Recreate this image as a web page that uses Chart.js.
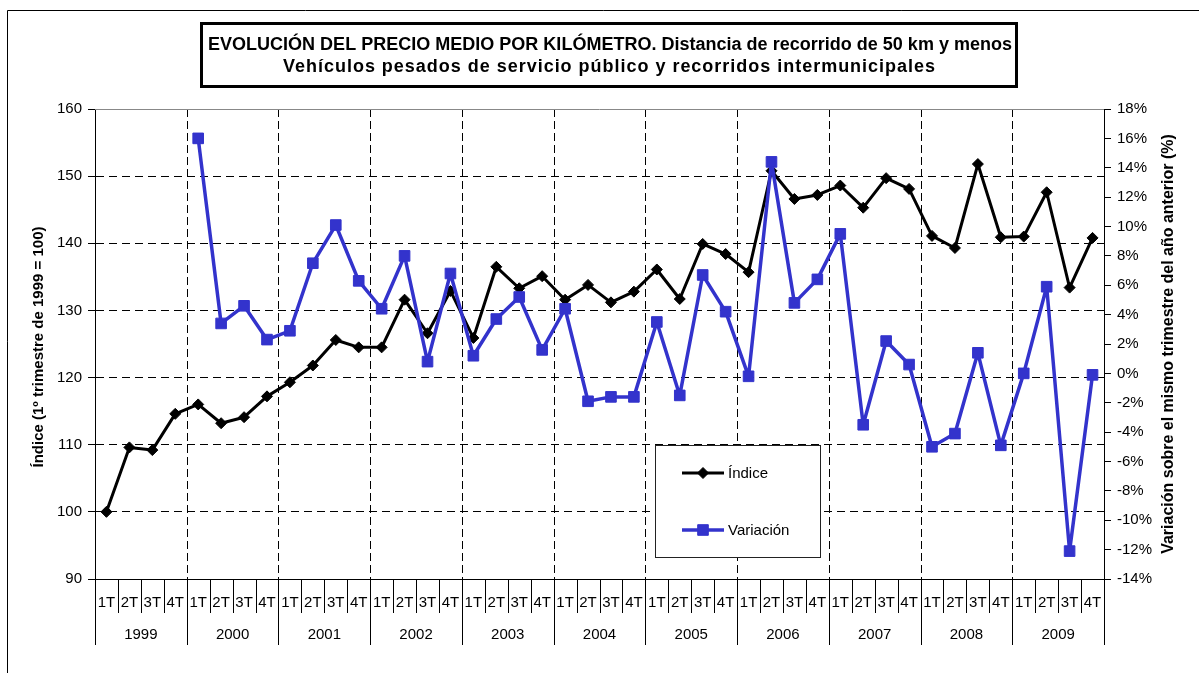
<!DOCTYPE html>
<html><head><meta charset="utf-8">
<script src="https://cdn.jsdelivr.net/npm/chart.js@4.4.1/dist/chart.umd.min.js"></script>
<style>html,body{margin:0;padding:0;background:#fff;overflow:hidden}canvas{display:block}</style>
</head><body>
<canvas id="c" width="1199" height="673"></canvas>
<script>
// ---- data ----
const years = ['1999','2000','2001','2002','2003','2004','2005','2006','2007','2008','2009'];
const quarters = ['1T','2T','3T','4T'];
const indice = [100.0, 109.6, 109.2, 114.6, 116.0, 113.2, 114.1, 117.2, 119.3, 121.8, 125.6, 124.5,
                124.5, 131.6, 126.6, 132.9, 125.9, 136.5, 133.3, 135.1, 131.6, 133.8, 131.2, 132.8,
                136.1, 131.7, 139.9, 138.4, 135.7, 150.8, 146.6, 147.2, 148.6, 145.3, 149.7, 148.1,
                141.1, 139.3, 151.8, 140.9, 141.0, 147.6, 133.4, 140.8];
const variacion = [null, null, null, null, 16.0, 3.4, 4.6, 2.3, 2.9, 7.5, 10.1, 6.3,
                   4.4, 8.0, 0.8, 6.8, 1.2, 3.7, 5.2, 1.6, 4.4, -1.9, -1.6, -1.6,
                   3.5, -1.5, 6.7, 4.2, -0.2, 14.4, 4.8, 6.4, 9.5, -3.5, 2.2, 0.6,
                   -5.0, -4.1, 1.4, -4.9, 0.0, 5.9, -12.1, -0.1];
const leftAxis = {min: 90, max: 160, step: 10};
const rightAxis = {min: -14, max: 18, step: 2};
const seriesNames = ['Índice', 'Variación'];
const titleLines = ['EVOLUCIÓN DEL PRECIO MEDIO POR KILÓMETRO. Distancia de recorrido de 50 km y menos',
                    'Vehículos pesados de servicio público y recorridos intermunicipales'];
const leftTitle = 'Índice (1º trimestre de 1999 = 100)';
const rightTitle = 'Variación sobre el mismo trimestre del año anterior (%)';

const categories = [];
years.forEach(y => quarters.forEach(q => categories.push(q + ' ' + y)));

const FONT = '"Liberation Sans", Arial, Helvetica, sans-serif';
const BLUE = '#3333CC';

function fitText(ctx, text, cx, cy, width) {
  const w = ctx.measureText(text).width;
  const n = Math.max(text.length - 1, 1);
  const sp = (width - w) / n;
  if ('letterSpacing' in ctx) {
    ctx.letterSpacing = sp + 'px';
    ctx.fillText(text, cx + sp / 2, cy);
    ctx.letterSpacing = '0px';
  } else {
    ctx.fillText(text, cx, cy);
  }
}

const decor = {
  id: 'decor',
  beforeDraw(chart) {
    const ctx = chart.ctx;
    ctx.save();
    ctx.fillStyle = '#fff';
    ctx.fillRect(0, 0, chart.width, chart.height);
    ctx.strokeStyle = '#000';
    ctx.lineWidth = 1;
    ctx.beginPath();
    ctx.moveTo(7.5, chart.height);
    ctx.lineTo(7.5, 10.5);
    ctx.lineTo(chart.width, 10.5);
    ctx.stroke();
    ctx.restore();
  },
  beforeDatasetsDraw(chart) {
    const {ctx, chartArea: a, scales: {x}} = chart;
    ctx.save();
    ctx.strokeStyle = '#000';
    ctx.lineWidth = 1;
    ctx.setLineDash([8, 4]);
    for (let k = 1; k < years.length; k++) {
      const px = Math.round(x.getPixelForValue(k * quarters.length - 0.5)) + 0.5;
      ctx.beginPath();
      ctx.moveTo(px, a.top);
      ctx.lineTo(px, a.bottom);
      ctx.stroke();
    }
    ctx.setLineDash([]);
    ctx.strokeStyle = '#888';
    ctx.beginPath();
    ctx.moveTo(a.left, Math.round(a.top) + 0.5);
    ctx.lineTo(a.right, Math.round(a.top) + 0.5);
    ctx.stroke();
    ctx.restore();
  },
  afterDraw(chart) {
    const {ctx, chartArea: a, scales: {x}} = chart;
    ctx.save();
    ctx.strokeStyle = '#000';
    ctx.lineWidth = 1;
    const by = Math.round(a.bottom) + 0.5;
    ctx.beginPath();
    ctx.moveTo(a.left - 7, by);
    ctx.lineTo(a.right, by);
    ctx.stroke();
    ctx.fillStyle = '#000';
    ctx.font = '15px ' + FONT;
    ctx.textAlign = 'center';
    ctx.textBaseline = 'middle';
    for (let i = 0; i <= categories.length; i++) {
      const px = Math.round(x.getPixelForValue(i - 0.5)) + 0.5;
      const isYear = i % quarters.length === 0;
      ctx.beginPath();
      ctx.moveTo(px, by);
      ctx.lineTo(px, isYear ? 645 : 613);
      ctx.stroke();
    }
    categories.forEach((c, i) => {
      ctx.fillText(quarters[i % quarters.length], x.getPixelForValue(i), 603);
    });
    years.forEach((y, k) => {
      const cx = (x.getPixelForValue(k * 4 - 0.5) + x.getPixelForValue(k * 4 + 3.5)) / 2;
      ctx.fillText(y, cx, 635);
    });
    // axis titles
    ctx.font = 'bold 15px ' + FONT;
    ctx.save();
    ctx.translate(39, 347);
    ctx.rotate(-Math.PI / 2);
    ctx.fillText(leftTitle, 0, 0);
    ctx.restore();
    ctx.font = 'bold 16px ' + FONT;
    ctx.save();
    ctx.translate(1169, 344);
    ctx.rotate(-Math.PI / 2);
    ctx.fillText(rightTitle, 0, 0);
    ctx.restore();
    // title box
    ctx.lineWidth = 3;
    ctx.strokeStyle = '#000';
    ctx.fillStyle = '#fff';
    ctx.fillRect(201.5, 23.5, 815, 63);
    ctx.strokeRect(201.5, 23.5, 815, 63);
    ctx.fillStyle = '#000';
    ctx.font = 'bold 18px ' + FONT;
    fitText(ctx, titleLines[0], 610, 45, 804);
    fitText(ctx, titleLines[1], 609, 67, 652);
    // legend
    ctx.lineWidth = 1;
    ctx.strokeStyle = '#222';
    ctx.fillStyle = '#fff';
    ctx.fillRect(655.5, 445.5, 165, 112);
    ctx.strokeRect(655.5, 445.5, 165, 112);
    const ds = chart.data.datasets;
    const entries = [{y: 473, ds: ds[0]}, {y: 530, ds: ds[1]}];
    entries.forEach(e => {
      ctx.strokeStyle = e.ds.borderColor;
      ctx.lineWidth = e.ds.borderWidth;
      ctx.beginPath();
      ctx.moveTo(682, e.y);
      ctx.lineTo(724, e.y);
      ctx.stroke();
      ctx.lineWidth = 1;
      ctx.fillStyle = e.ds.borderColor;
      Chart.helpers.drawPoint(ctx, {pointStyle: e.ds.pointStyle, radius: e.ds.pointRadius, borderWidth: 1, rotation: 0}, 703, e.y);
      ctx.fillStyle = '#000';
      ctx.font = '15px ' + FONT;
      ctx.textAlign = 'left';
      ctx.fillText(e.ds.label, 728, e.y + 1);
    });
    ctx.restore();
  }
};

new Chart(document.getElementById('c'), {
  type: 'line',
  data: {
    labels: categories,
    datasets: [
      {label: seriesNames[0], data: indice, yAxisID: 'y', borderColor: '#000', backgroundColor: '#000',
       borderWidth: 3, borderJoinStyle: 'round', pointStyle: 'rectRot', pointRadius: 5.5, pointBorderWidth: 1,
       tension: 0, order: 2},
      {label: seriesNames[1], data: variacion, yAxisID: 'y2', borderColor: BLUE, backgroundColor: BLUE,
       borderWidth: 3.5, borderJoinStyle: 'round', pointStyle: 'rect', pointRadius: 7.5, pointBorderWidth: 1,
       tension: 0, order: 1}
    ]
  },
  options: {
    responsive: false,
    animation: false,
    devicePixelRatio: 1,
    layout: {padding: {top: 109, bottom: 94, left: 0, right: 0}},
    plugins: {legend: {display: false}, tooltip: {enabled: false}, title: {display: false}},
    scales: {
      x: {type: 'category', offset: true, ticks: {display: false}, grid: {display: false},
          border: {display: false}, afterFit(s) { s.height = 0; }},
      y: {position: 'left', min: leftAxis.min, max: leftAxis.max,
          ticks: {stepSize: leftAxis.step, color: '#000', font: {family: FONT, size: 15}, padding: 6},
          grid: {color: c => (c.tick && (c.tick.value === leftAxis.min || c.tick.value === leftAxis.max)) ? 'rgba(0,0,0,0)' : '#000',
                 tickColor: '#000', tickLength: 7, lineWidth: 1},
          border: {display: true, color: '#000', width: 1, dash: [8, 5]},
          afterFit(s) { s.width = 95; }},
      y2: {position: 'right', min: rightAxis.min, max: rightAxis.max,
           ticks: {stepSize: rightAxis.step, color: '#000', font: {family: FONT, size: 15}, padding: 6,
                   callback: v => v + '%'},
           grid: {drawOnChartArea: false, tickColor: '#000', tickLength: 7},
           border: {display: true, color: '#000', width: 1},
           afterFit(s) { s.width = 95; }}
    }
  },
  plugins: [decor]
});
</script>
</body></html>
